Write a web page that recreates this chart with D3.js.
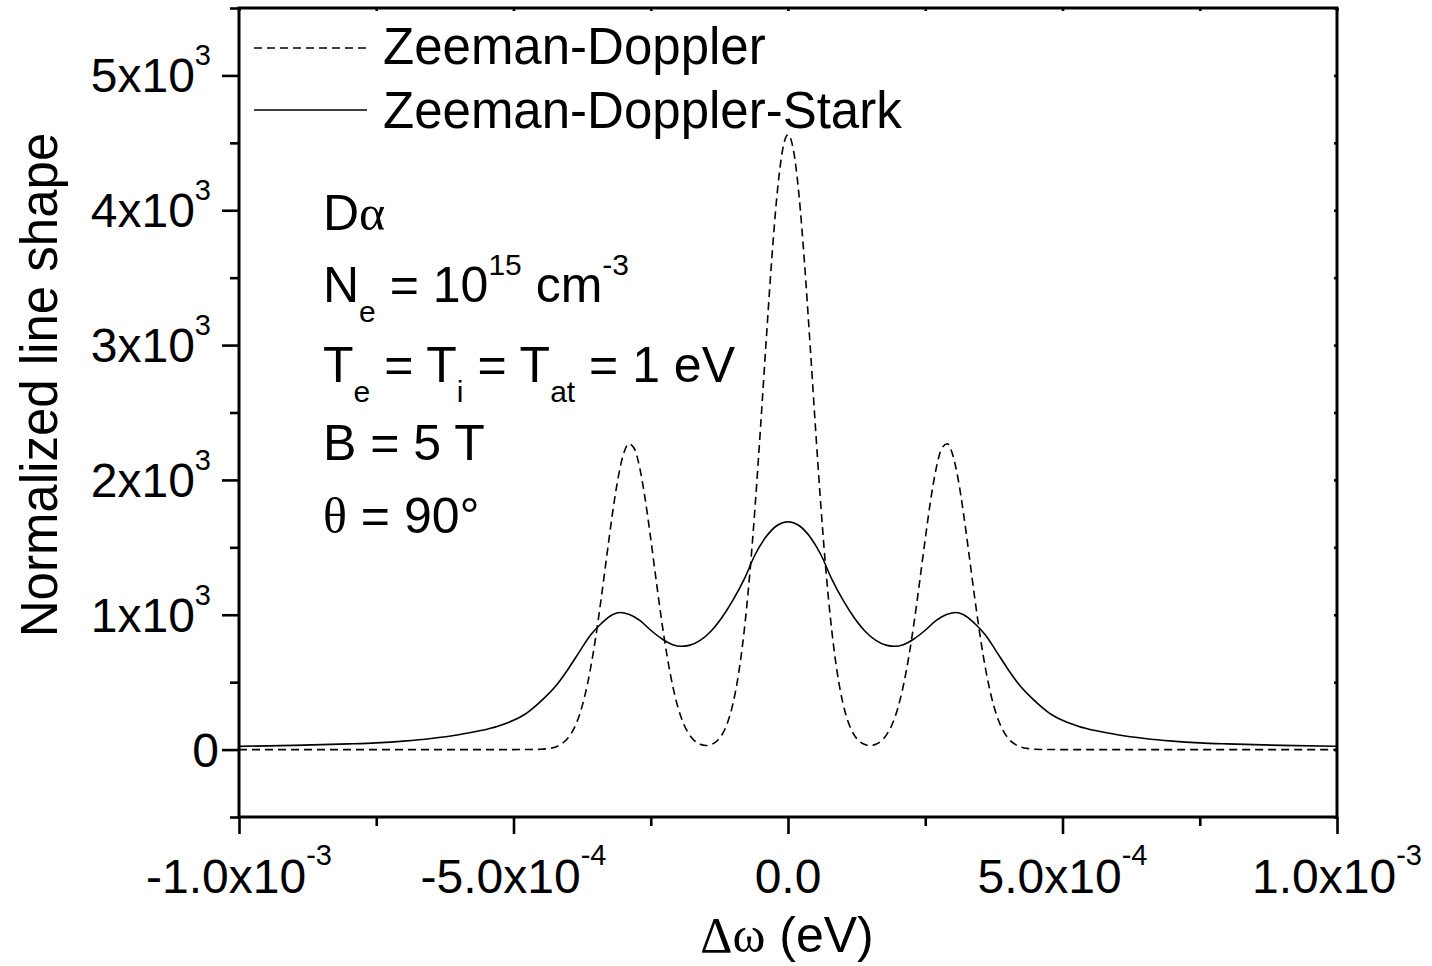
<!DOCTYPE html>
<html><head><meta charset="utf-8">
<script src="https://cdn.jsdelivr.net/npm/d3@7"></script>
<style>
body{margin:0;background:#fff}
svg{display:block}
text{font-family:"Liberation Sans",Arial,sans-serif;fill:#000}
</style>
</head><body>
<svg id="c" width="1432" height="966"></svg>
<script>
// ---- tick labels ----
const xTicks=[-1e-3,-5e-4,0,5e-4,1e-3];
const xTickMant=["-1.0","-5.0","0.0","5.0","1.0"];
const xTickExp=["-3","-4","","-4","-3"];
const xMinor=[-7.5e-4,-2.5e-4,2.5e-4,7.5e-4];
const yTicks=[0,1000,2000,3000,4000,5000];
const yTickMant=["0","1","2","3","4","5"];
const yTickExp=["","3","3","3","3","3"];
const yMinor=[-500,500,1500,2500,3500,4500,5500];

// ---- series: Zeeman-Doppler (dashed) ----
const zdX=[-100e-5,-90e-5,-80e-5,-70e-5,-60e-5,-50e-5,-46e-5,-45e-5,-44e-5,-43e-5,-42e-5,-41e-5,-40e-5,-39e-5,-38e-5,-37e-5,-36e-5,-35e-5,-34e-5,-33e-5,-32e-5,-31e-5,-30e-5,-29e-5,-28e-5,-27e-5,-26e-5,-25e-5,-24e-5,-23e-5,-22e-5,-21e-5,-20e-5,-19e-5,-18e-5,-17e-5,-16e-5,-15e-5,-14e-5,-13e-5,-12e-5,-11e-5,-10e-5,-9e-5,-8e-5,-7e-5,-6e-5,-5e-5,-4e-5,-3e-5,-2e-5,-1e-5,0,1e-5,2e-5,3e-5,4e-5,5e-5,6e-5,7e-5,8e-5,9e-5,10e-5,11e-5,12e-5,13e-5,14e-5,15e-5,16e-5,17e-5,18e-5,19e-5,20e-5,21e-5,22e-5,23e-5,24e-5,25e-5,26e-5,27e-5,28e-5,29e-5,30e-5,31e-5,32e-5,33e-5,34e-5,35e-5,36e-5,37e-5,38e-5,39e-5,40e-5,41e-5,42e-5,43e-5,44e-5,45e-5,46e-5,50e-5,60e-5,70e-5,80e-5,90e-5,100e-5];
const zdY=[0,0,0,0,0,0,1,2,6,12,25,49,89,155,255,400,595,841,1129,1439,1742,2003,2187,2268,2233,2088,1854,1563,1252,952,688,472,307,190,113,65,39,30,37,62,112,201,345,563,873,1286,1799,2391,3016,3614,4113,4444,4560,4444,4113,3614,3016,2391,1799,1286,873,563,345,201,112,62,37,30,39,65,113,190,307,472,688,952,1252,1563,1854,2088,2233,2268,2187,2003,1742,1439,1129,841,595,400,255,155,89,49,25,12,6,2,1,0,0,0,0,0,0];

// ---- series: Zeeman-Doppler-Stark (solid) ----
const zdsX=[-10e-4,-9e-4,-8e-4,-7.5e-4,-7e-4,-6.5e-4,-6e-4,-5.6e-4,-5.3e-4,-5e-4,-4.8e-4,-4.6e-4,-4.4e-4,-4.2e-4,-4e-4,-3.8e-4,-3.6e-4,-3.4e-4,-3.2e-4,-3.05e-4,-2.9e-4,-2.7e-4,-2.5e-4,-2.3e-4,-2.1e-4,-1.95e-4,-1.8e-4,-1.6e-4,-1.4e-4,-1.2e-4,-1e-4,-0.8e-4,-0.6e-4,-0.4e-4,-0.2e-4,0,0.2e-4,0.4e-4,0.6e-4,0.8e-4,1e-4,1.2e-4,1.4e-4,1.6e-4,1.8e-4,1.95e-4,2.1e-4,2.3e-4,2.5e-4,2.7e-4,2.9e-4,3.05e-4,3.2e-4,3.4e-4,3.6e-4,3.8e-4,4e-4,4.2e-4,4.4e-4,4.6e-4,4.8e-4,5e-4,5.3e-4,5.6e-4,6e-4,6.5e-4,7e-4,7.5e-4,8e-4,9e-4,10e-4];
const zdsY=[24,31,42,50,63,82,110,141,172,217,260,323,398,487,600,725,848,935,1000,1017,1003,958,885,822,778,766,773,810,880,982,1110,1262,1445,1578,1662,1690,1662,1578,1445,1262,1110,982,880,810,773,766,778,822,885,958,1003,1017,1000,935,848,725,600,487,398,323,260,217,172,141,110,82,63,50,42,31,24];

const seriesNames=["Zeeman-Doppler","Zeeman-Doppler-Stark"];

const L=239,R=1337,T=8,B=817;
const SERIF='"Liberation Serif","Times New Roman",serif';
const svg=d3.select("#c");
const x=d3.scaleLinear().domain([-1e-3,1e-3]).range([L,R]);
const y=d3.scaleLinear().domain([-500,5500]).range([B,T]);

svg.append("defs").append("clipPath").attr("id","clip").append("rect").attr("x",L).attr("y",T).attr("width",R-L).attr("height",B-T);

const line=d3.line().x(d=>x(d[0])).y(d=>y(d[1])).curve(d3.curveMonotoneX);
const g=svg.append("g").attr("clip-path","url(#clip)");
g.append("path").datum(zdX.map((v,i)=>[v,zdY[i]])).attr("d",line)
 .attr("fill","none").attr("stroke","#000").attr("stroke-width",1.6).attr("stroke-dasharray","8,5");
g.append("path").datum(zdsX.map((v,i)=>[v,zdsY[i]])).attr("d",line)
 .attr("fill","none").attr("stroke","#000").attr("stroke-width",1.6);

function styleAxis(sel){sel.select(".domain").remove();sel.selectAll("line").attr("stroke","#000").attr("stroke-width",2.6);}
svg.append("g").attr("transform",`translate(0,${B})`).call(d3.axisBottom(x).tickValues(xTicks).tickSize(17).tickSizeOuter(0).tickFormat("")).call(styleAxis);
svg.append("g").attr("transform",`translate(0,${B})`).call(d3.axisBottom(x).tickValues(xMinor).tickSize(9).tickSizeOuter(0).tickFormat("")).call(styleAxis);
svg.append("g").attr("transform",`translate(${L},0)`).call(d3.axisLeft(y).tickValues(yTicks).tickSize(17).tickSizeOuter(0).tickFormat("")).call(styleAxis);
svg.append("g").attr("transform",`translate(${L},0)`).call(d3.axisLeft(y).tickValues(yMinor).tickSize(9).tickSizeOuter(0).tickFormat("")).call(styleAxis);
svg.append("g").attr("transform",`translate(0,${T})`).call(d3.axisBottom(x).tickValues(xTicks.concat(xMinor)).tickSize(3).tickSizeOuter(0).tickFormat("")).call(styleAxis);
svg.append("g").attr("transform",`translate(${R},0)`).call(d3.axisLeft(y).tickValues(yTicks.concat(yMinor)).tickSize(3).tickSizeOuter(0).tickFormat("")).call(styleAxis);

svg.append("rect").attr("x",L).attr("y",T).attr("width",R-L).attr("height",B-T)
 .attr("fill","none").attr("stroke","#000").attr("stroke-width",3);

xTicks.forEach((v,i)=>{
  const t=svg.append("text").attr("x",x(v)).attr("y",893).attr("text-anchor","middle").attr("font-size",48);
  t.append("tspan").text(xTickMant[i]+(xTickExp[i]?"x10":""));
  if(xTickExp[i]) t.append("tspan").attr("dy",-28).attr("font-size",29).text(xTickExp[i]);
});
yTicks.forEach((v,i)=>{
  const t=svg.append("text").attr("x",yTickExp[i]?211:219).attr("y",y(v)+17).attr("text-anchor","end").attr("font-size",48);
  t.append("tspan").text(yTickMant[i]+(yTickExp[i]?"x10":""));
  if(yTickExp[i]) t.append("tspan").attr("dy",-27).attr("font-size",29).text(yTickExp[i]);
});

const xt=svg.append("text").attr("x",787).attr("y",952).attr("text-anchor","middle").attr("font-size",50);
xt.append("tspan").style("font-family",SERIF).text("Δω");
xt.append("tspan").text(" (eV)");
svg.append("text").attr("transform","translate(57,385) rotate(-90)").attr("text-anchor","middle").attr("font-size",51).text("Normalized line shape");

svg.append("line").attr("x1",254).attr("x2",367).attr("y1",48).attr("y2",48).attr("stroke","#000").attr("stroke-width",1.6).attr("stroke-dasharray","8,5");
svg.append("line").attr("x1",254).attr("x2",367).attr("y1",110).attr("y2",110).attr("stroke","#000").attr("stroke-width",1.6);
svg.append("text").attr("x",383).attr("y",64).attr("font-size",51).text(seriesNames[0]);
svg.append("text").attr("x",383).attr("y",128).attr("font-size",51).text(seriesNames[1]);

function richLine(yy,parts){
  const t=svg.append("text").attr("x",323).attr("y",yy).attr("font-size",50);
  parts.forEach(p=>{
    const s=t.append("tspan").text(p.t);
    if(p.fs) s.attr("font-size",p.fs);
    if(p.dy) s.attr("dy",p.dy);
    if(p.serif) s.style("font-family",SERIF);
  });
}
richLine(230,[{t:"D"},{t:"α",serif:true}]);
richLine(302,[{t:"N"},{t:"e",fs:30,dy:20},{t:" = 10",dy:-20},{t:"15",fs:30,dy:-27},{t:" cm",dy:27},{t:"-3",fs:30,dy:-27}]);
richLine(382,[{t:"T"},{t:"e",fs:30,dy:20},{t:" = T",dy:-20},{t:"i",fs:30,dy:20},{t:" = T",dy:-20},{t:"at",fs:30,dy:20},{t:" = 1 eV",dy:-20}]);
richLine(460,[{t:"B = 5 T"}]);
richLine(533,[{t:"θ",serif:true},{t:" = 90°"}]);
</script>
</body></html>
